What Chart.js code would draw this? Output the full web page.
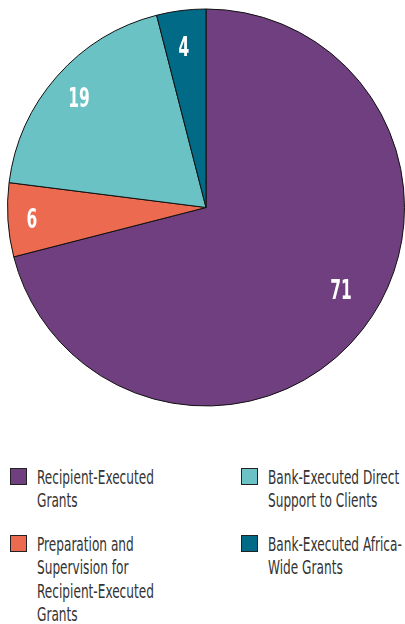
<!DOCTYPE html>
<html>
<head>
<meta charset="utf-8">
<script src="https://cdn.jsdelivr.net/npm/chart.js@4.4.0/dist/chart.umd.min.js"></script>
<style>
  html, body { margin: 0; padding: 0; background: #fff; overflow: hidden; }
  #wrap { position: relative; width: 405px; height: 415px; }
  #legend {
    position: absolute; left: 0; top: 466px; width: 405px;
    font-family: "DejaVu Sans Condensed", "DejaVu Sans", sans-serif;
    font-size: 19px; line-height: 23.3px; color: #333;
  }
  .item { position: absolute; }
  .box { position: absolute; left: 0; top: 2px; width: 15px; height: 15px; border: 1px solid #222; }
  .txt { position: absolute; left: 27px; top: 0; white-space: nowrap; transform: scaleX(0.71); transform-origin: 0 0; }
</style>
</head>
<body>
<div id="wrap"><canvas id="pie"></canvas></div>
<div id="legend"></div>
<script>
const categories = [
  "Recipient-Executed Grants",
  "Preparation and Supervision for Recipient-Executed Grants",
  "Bank-Executed Direct Support to Clients",
  "Bank-Executed Africa-Wide Grants"
];
const legendLines = [
  ["Recipient-Executed", "Grants"],
  ["Preparation and", "Supervision for", "Recipient-Executed", "Grants"],
  ["Bank-Executed Direct", "Support to Clients"],
  ["Bank-Executed Africa-", "Wide Grants"]
];
const values = [71, 6, 19, 4];
const colors = ["#703f80", "#ec6a4f", "#6ac2c5", "#006a87"];

// label placement tweaks per slice (radius fraction, angle shift in degrees)
const labelRadius = [0.8, 0.88, 0.84, 0.81];
const labelShift = [-6, -0.7, -1, -0.7];

const sliceLabels = {
  id: "sliceLabels",
  afterDatasetsDraw(chart) {
    const ctx = chart.ctx;
    const meta = chart.getDatasetMeta(0);
    ctx.save();
    ctx.fillStyle = "#fff";
    ctx.textAlign = "center";
    ctx.textBaseline = "middle";
    ctx.font = "bold 26px 'DejaVu Sans Condensed', 'DejaVu Sans', sans-serif";
    meta.data.forEach((arc, i) => {
      const mid = (arc.startAngle + arc.endAngle) / 2 + labelShift[i] * Math.PI / 180;
      const r = arc.outerRadius * labelRadius[i];
      const x = arc.x + Math.cos(mid) * r;
      const y = arc.y + Math.sin(mid) * r;
      ctx.save();
      ctx.translate(x, y);
      ctx.scale(0.66, 1);
      ctx.fillText(String(values[i]), 0, 1);
      ctx.restore();
    });
    ctx.restore();
  }
};

new Chart(document.getElementById("pie"), {
  type: "pie",
  data: {
    labels: categories,
    datasets: [{
      data: values,
      backgroundColor: colors,
      borderColor: "#111",
      borderWidth: 1
    }]
  },
  options: {
    responsive: true,
    maintainAspectRatio: false,
    animation: false,
    layout: { padding: { left: 7, right: 0, top: 8, bottom: 8 } },
    plugins: { legend: { display: false }, tooltip: { enabled: false } }
  },
  plugins: [sliceLabels]
});

// legend: two columns, order as in the picture
const legendEl = document.getElementById("legend");
const pos = [[10, 0], [10, 67], [241, 0], [241, 67]];
legendLines.forEach((lines, i) => {
  const it = document.createElement("div");
  it.className = "item";
  it.style.left = pos[i][0] + "px";
  it.style.top = pos[i][1] + "px";
  const box = document.createElement("div");
  box.className = "box";
  box.style.background = colors[i];
  const t = document.createElement("div");
  t.className = "txt";
  t.innerHTML = lines.join("<br>");
  it.appendChild(box);
  it.appendChild(t);
  legendEl.appendChild(it);
});
</script>
</body>
</html>
